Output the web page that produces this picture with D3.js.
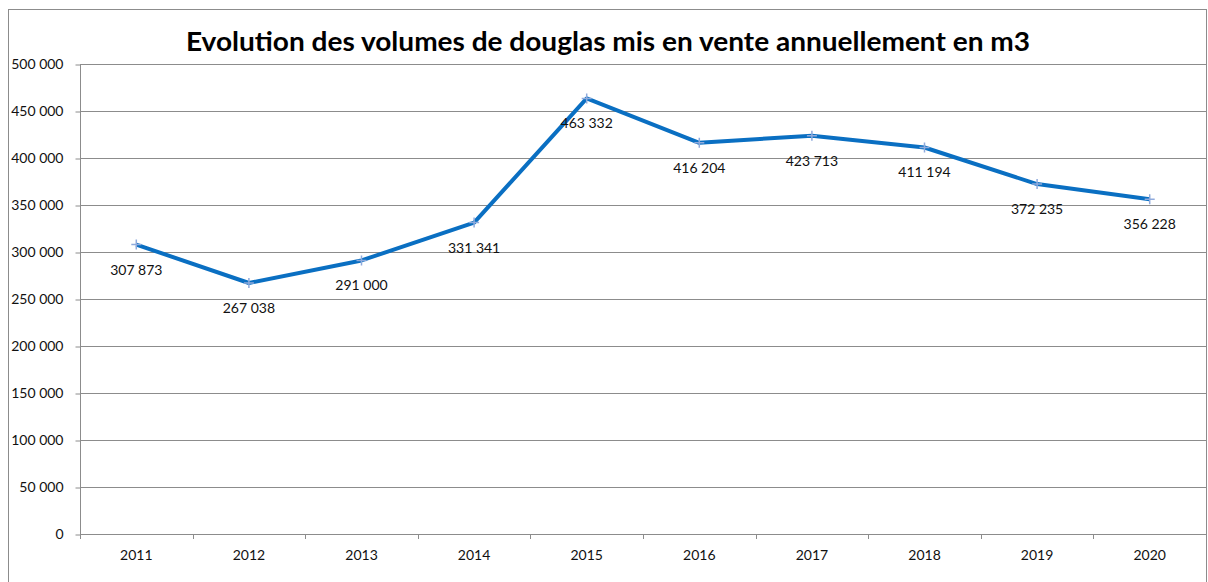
<!DOCTYPE html>
<html>
<head>
<meta charset="utf-8">
<script src="https://cdn.jsdelivr.net/npm/d3@7"></script>
<style>
  body { margin: 0; background: #fff; }
  text { font-family: Lato, "Open Sans", sans-serif; }
</style>
</head>
<body>
<svg id="chart"></svg>
<script>
var years = ["2011","2012","2013","2014","2015","2016","2017","2018","2019","2020"];
var volumes = [307873, 267038, 291000, 331341, 463332, 416204, 423713, 411194, 372235, 356228];
var yTicks = [0, 50000, 100000, 150000, 200000, 250000, 300000, 350000, 400000, 450000, 500000];
var title = "Evolution des volumes de douglas mis en vente annuellement en m3";

var W = 1208, H = 582;
var plotL = 80, plotR = 1206, plotT = 64, plotB = 534;

var svg = d3.select("#chart")
            .attr("width", W)
            .attr("height", H);

var fr = d3.formatLocale({decimal: ",", thousands: " ", grouping: [3], currency: ["", " €"]});
var fmt = fr.format(",d");

// outer chart border (cropped at right and bottom)
svg.append("rect")
    .attr("x", 8.5)
    .attr("y", 9.5)
    .attr("width", 1198)
    .attr("height", 600)
    .attr("fill", "none")
    .attr("stroke", "#8c8c8c")
    .attr("stroke-width", 1);

var x = d3.scaleBand().domain(years).range([plotL, plotR]);
var y = d3.scaleLinear().domain([0, 500000]).range([plotB, plotT]);

// grid lines
svg.append("g")
    .selectAll("line")
    .data(yTicks.slice(1))
    .enter()
    .append("line")
    .attr("x1", plotL)
    .attr("x2", plotR)
    .attr("y1", function(d){ return Math.round(y(d)) + 0.5; })
    .attr("y2", function(d){ return Math.round(y(d)) + 0.5; })
    .attr("stroke", "#8c8c8c")
    .attr("stroke-width", 1);

// y axis
var yAxis = svg.append("g")
    .attr("transform", "translate(" + (plotL + 0.5) + ",0.5)")
    .call(d3.axisLeft(y).tickValues(yTicks).tickSize(5).tickPadding(12).tickFormat(fmt));
yAxis.select(".domain").attr("stroke", "#8c8c8c").attr("d", "M0," + plotT + "V" + plotB);
yAxis.selectAll(".tick line").attr("stroke", "#8c8c8c");
yAxis.selectAll(".tick text")
    .attr("fill", "#111")
    .style("font-size", "14px");

// x axis
var xAxis = svg.append("g")
    .attr("transform", "translate(0," + (plotB + 0.5) + ")")
    .call(d3.axisBottom(x).tickSize(0).tickPadding(16));
xAxis.select(".domain").attr("stroke", "#8c8c8c").attr("d", "M" + plotL + ",0H" + plotR);
xAxis.selectAll(".tick text")
    .attr("fill", "#111")
    .style("font-size", "14px");

// category separator ticks
svg.append("g")
    .selectAll("line")
    .data(years)
    .enter()
    .append("line")
    .attr("x1", function(d){ return Math.round(x(d)) + 0.5; })
    .attr("x2", function(d){ return Math.round(x(d)) + 0.5; })
    .attr("y1", plotB)
    .attr("y2", plotB + 5)
    .attr("stroke", "#8c8c8c");

// line
var line = d3.line()
    .x(function(d, i){ return x(years[i]) + x.bandwidth() / 2; })
    .y(function(d){ return y(d); });

svg.append("path")
    .datum(volumes)
    .attr("d", line)
    .attr("fill", "none")
    .attr("stroke", "#0a6fc2")
    .attr("stroke-width", 4)
    .attr("stroke-linejoin", "round");

// plus markers
var markers = svg.append("g")
    .selectAll("g")
    .data(volumes)
    .enter()
    .append("g")
    .attr("transform", function(d, i){
        return "translate(" + (x(years[i]) + x.bandwidth() / 2) + "," + y(d) + ")";
    });
markers.append("path")
    .attr("d", "M-5,0H5M0,-5V5")
    .attr("stroke", "#8faadc")
    .attr("stroke-width", 1.5);

// data labels
svg.append("g")
    .selectAll("text")
    .data(volumes)
    .enter()
    .append("text")
    .attr("x", function(d, i){ return x(years[i]) + x.bandwidth() / 2; })
    .attr("y", function(d){ return y(d) + 30; })
    .attr("text-anchor", "middle")
    .style("font-size", "14px")
    .attr("fill", "#111")
    .text(function(d){ return fmt(d); });

// title
svg.append("text")
    .attr("x", 608)
    .attr("y", 51)
    .attr("text-anchor", "middle")
    .attr("textLength", 844)
    .attr("lengthAdjust", "spacingAndGlyphs")
    .style("font-size", "26px")
    .style("font-weight", "bold")
    .attr("fill", "#000")
    .text(title);
</script>
</body>
</html>
